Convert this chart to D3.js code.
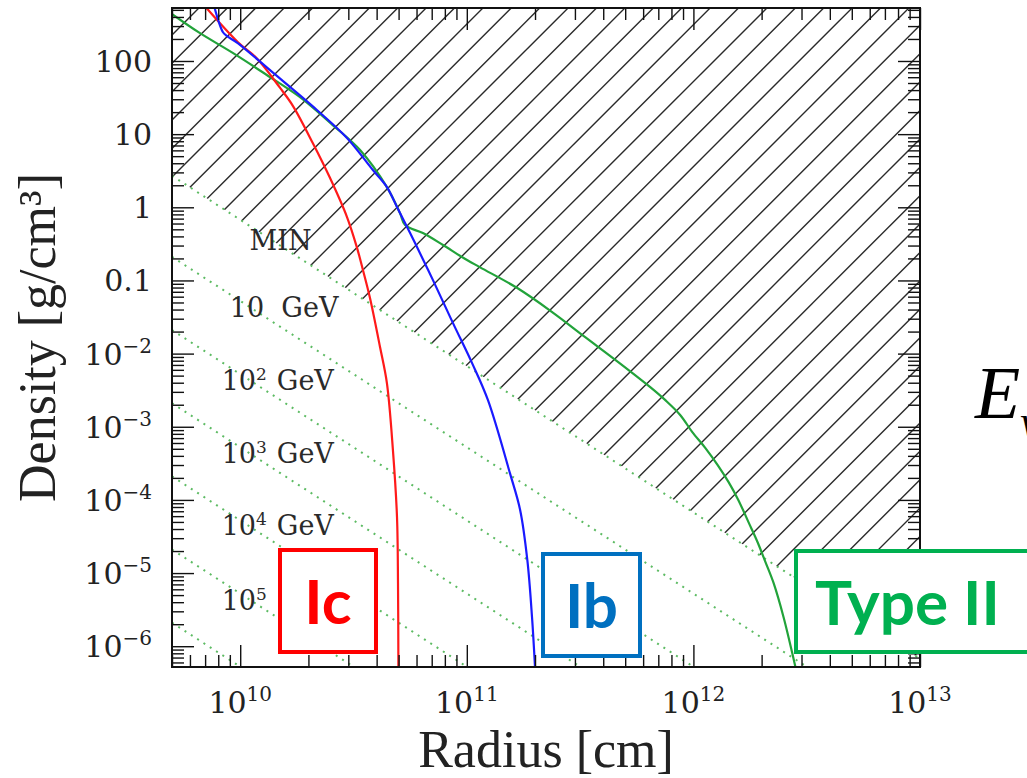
<!DOCTYPE html>
<html>
<head>
<meta charset="utf-8">
<script src="https://cdn.jsdelivr.net/npm/d3@7"></script>
<style>
  body { margin: 0; background: #fff; }
  svg { display: block; }
  .axis path { display: none; }
  .axis line { stroke: #111; stroke-width: 1.4; }
  .ticklabel { font-family: 'DejaVu Serif', serif; font-size: 30px; fill: #222; }
  .title { font-family: 'Liberation Serif', serif; font-size: 52px; fill: #222; }
  .linelabel { font-family: 'DejaVu Serif', serif; font-size: 27px; fill: #2a2a2a; }
</style>
</head>
<body>
<div id="chart"></div>
<script>
// axis ranges
const radiusDomain = [5e9, 1e13]
const densityDomain = [5.2e-7, 530]
const radiusTickExp = [10, 11, 12, 13]
const densityTicks = [100, 10, 1, 0.1, 1e-2, 1e-3, 1e-4, 1e-5, 1e-6]

// density profiles: [radius cm, density g/cm3]
const icProfile = [
  [7.1e9, 530], [9.75e9, 182], [1.18e10, 110], [1.50e10, 42.8], [1.71e10, 24.2],
  [2.09e10, 7.57], [2.48e10, 2.59], [2.96e10, 0.736], [3.27e10, 0.286], [3.48e10, 0.139],
  [3.73e10, 0.0593], [4.14e10, 0.0123], [4.44e10, 3.95e-3], [4.72e10, 4.79e-4],
  [4.92e10, 5.8e-5], [4.97e10, 7.3e-6], [4.99e10, 5.2e-7]
]
const ibProfile = [
  [7.71e9, 530], [8.38e9, 249], [8.72e9, 220], [9.75e9, 176], [1.35e10, 75.4],
  [2.18e10, 21.4], [2.96e10, 8.85], [3.85e10, 3.23], [4.44e10, 1.89], [4.92e10, 1.01],
  [5.45e10, 0.537], [5.91e10, 0.324], [7.09e10, 0.101], [8.69e10, 0.0261],
  [1.055e11, 7.41e-3], [1.24e11, 2.31e-3], [1.55e11, 2.32e-4], [1.72e11, 7.24e-5],
  [1.85e11, 1.50e-5], [1.94e11, 2.49e-6], [2.0e11, 5.2e-7]
]
const typeIIProfile = [
  [4.99e9, 440], [6.62e9, 242], [9.27e9, 129], [1.31e10, 64.4], [1.83e10, 32.2],
  [2.56e10, 13.3], [3.38e10, 6.07], [4.44e10, 1.89], [5.07e10, 0.834], [5.34e10, 0.571],
  [6.40e10, 0.444], [7.85e10, 0.305], [9.52e10, 0.209], [1.14e11, 0.152],
  [1.67e11, 0.0787], [2.38e11, 0.0370], [3.33e11, 0.0168], [4.66e11, 7.66e-3],
  [6.45e11, 3.48e-3], [7.52e11, 2.31e-3], [8.76e11, 1.44e-3], [9.89e11, 8.45e-4],
  [1.13e12, 5.11e-4], [1.28e12, 2.99e-4], [1.43e12, 1.75e-4], [1.58e12, 9.93e-5],
  [1.75e12, 4.97e-5], [1.92e12, 2.64e-5], [2.08e12, 1.41e-5], [2.26e12, 7.27e-6],
  [2.50e12, 2.49e-6], [2.82e12, 5.2e-7]
]

// threshold lines rho ~ r^-2, given by density at r = 5e9
const thresholdNames = ['MIN', '10 GeV', '10|2 GeV', '10|3 GeV', '10|4 GeV', '10|5', '']
const thresholdRho0 = [2.7, 0.21, 0.021, 2.1e-3, 2.1e-4, 2.1e-5, 2.1e-6]
const thresholdSlope = -2
const labelRadius = [1.10e10, 9.0e9, 8.28e9, 8.28e9, 8.28e9, 8.28e9]
const labelDensity = [0.26, 0.0315, 3.2e-3, 3.2e-4, 3.3e-5, 3.1e-6]

const w = 1027, h = 778
const pLeft = 172, pRight = 920, pTop = 8, pBottom = 667

let svg = d3.select('#chart').append('svg')
  .attr('width', w)
  .attr('height', h)

let x = d3.scaleLog().domain(radiusDomain).range([pLeft, pRight])
let y = d3.scaleLog().domain(densityDomain).range([pBottom, pTop])

let defs = svg.append('defs')
defs.append('clipPath').attr('id', 'plotclip')
  .append('rect')
  .attr('x', pLeft).attr('y', pTop)
  .attr('width', pRight - pLeft).attr('height', pBottom - pTop)

let rhoAt = (rho0, r) => rho0 * Math.pow(r / radiusDomain[0], thresholdSlope)

// hatched region above the MIN line
let minRho = thresholdRho0[0]
defs.append('clipPath').attr('id', 'hatchclip')
  .append('polygon')
  .attr('points', [
    [pLeft, pTop], [pRight, pTop],
    [pRight, y(rhoAt(minRho, radiusDomain[1]))],
    [pLeft, y(rhoAt(minRho, radiusDomain[0]))]
  ].map(p => p.join(',')).join(' '))

let hatchStep = 28.4
let c0 = 661.3
while (c0 - hatchStep > pLeft + pTop) c0 -= hatchStep
let hatchC = d3.range(c0, pRight + pBottom + hatchStep, hatchStep)
svg.append('g')
  .attr('clip-path', 'url(#hatchclip)')
  .selectAll('line')
  .data(hatchC)
  .enter()
  .append('line')
  .attr('x1', c => c - pBottom).attr('y1', pBottom)
  .attr('x2', c => c - pTop).attr('y2', pTop)
  .attr('stroke', '#2a2a2a')
  .attr('stroke-width', 1.4)

// threshold dotted lines
let plotG = svg.append('g').attr('clip-path', 'url(#plotclip)')
plotG.selectAll('.thr')
  .data(thresholdRho0)
  .enter()
  .append('line')
  .attr('class', 'thr')
  .attr('x1', x(radiusDomain[0]))
  .attr('y1', d => y(rhoAt(d, radiusDomain[0])))
  .attr('x2', x(radiusDomain[1]))
  .attr('y2', d => y(rhoAt(d, radiusDomain[1])))
  .attr('stroke', '#5dbb63')
  .attr('stroke-width', 2)
  .attr('stroke-dasharray', '2,5.5')

// profiles
let line = d3.line()
  .x(d => x(d[0]))
  .y(d => y(d[1]))
  .curve(d3.curveCatmullRom.alpha(0.5))

let profiles = [
  { data: typeIIProfile, color: '#22a33a' },
  { data: icProfile, color: '#ff1a1a' },
  { data: ibProfile, color: '#1a1aff' }
]
plotG.selectAll('.profile')
  .data(profiles)
  .enter()
  .append('path')
  .attr('class', 'profile')
  .attr('d', d => line(d.data))
  .attr('fill', 'none')
  .attr('stroke', d => d.color)
  .attr('stroke-width', 2.2)

// line labels
let lbl = svg.selectAll('.linelabel')
  .data(thresholdNames.slice(0, 6))
  .enter()
  .append('text')
  .attr('class', 'linelabel')
  .attr('x', (d, i) => x(labelRadius[i]))
  .attr('y', (d, i) => y(labelDensity[i]))
lbl.each(function (d) {
  let t = d3.select(this)
  let parts = d.split('|')
  if (parts.length === 1) {
    t.text(d.replace(' ', '\u00a0\u00a0'))
    return
  }
  let rest = parts[1].split(' ')
  t.append('tspan').text(parts[0])
  t.append('tspan').attr('font-size', 17).attr('dy', -10).text(rest[0])
  if (rest[1]) t.append('tspan').attr('dy', 10).attr('dx', 10).text(rest[1])
})

// ticks on all four sides, pointing inward
let majorX = radiusTickExp.map(e => Math.pow(10, e)).filter(v => v >= radiusDomain[0] && v <= radiusDomain[1])
let minorX = []
d3.range(9, 13).forEach(e => d3.range(2, 10).forEach(m => {
  let v = m * Math.pow(10, e)
  if (v >= radiusDomain[0] && v < radiusDomain[1]) minorX.push(v)
}))
let majorY = d3.range(-6, 3).map(e => Math.pow(10, e))
let minorY = []
d3.range(-7, 3).forEach(e => d3.range(2, 10).forEach(m => {
  let v = m * Math.pow(10, e)
  if (v >= densityDomain[0] && v <= densityDomain[1]) minorY.push(v)
}))

let addAxis = (axisFn, scale, vals, size, tr) => {
  svg.append('g')
    .attr('class', 'axis')
    .attr('transform', tr)
    .call(axisFn(scale).tickValues(vals).tickSize(-size).tickFormat(''))
}
;[[majorX, 22], [minorX, 12]].forEach(([vals, s]) => {
  addAxis(d3.axisBottom, x, vals, s, `translate(0,${pBottom})`)
  addAxis(d3.axisTop, x, vals, s, `translate(0,${pTop})`)
})
;[[majorY, 22], [minorY, 12]].forEach(([vals, s]) => {
  addAxis(d3.axisLeft, y, vals, s, `translate(${pLeft},0)`)
  addAxis(d3.axisRight, y, vals, s, `translate(${pRight},0)`)
})

svg.append('rect')
  .attr('x', pLeft).attr('y', pTop)
  .attr('width', pRight - pLeft).attr('height', pBottom - pTop)
  .attr('fill', 'none')
  .attr('stroke', '#111')
  .attr('stroke-width', 2)

// x tick labels
svg.selectAll('.xlab')
  .data(radiusTickExp)
  .enter()
  .append('text')
  .attr('class', 'ticklabel xlab')
  .attr('x', e => x(Math.pow(10, e)))
  .attr('y', 713)
  .attr('text-anchor', 'middle')
  .each(function (e) {
    let t = d3.select(this)
    t.append('tspan').text('10')
    t.append('tspan').attr('font-size', 20).attr('dy', -12).text(e)
  })

// y tick labels
svg.selectAll('.ylab')
  .data(densityTicks)
  .enter()
  .append('text')
  .attr('class', 'ticklabel ylab')
  .attr('x', 152)
  .attr('y', d => y(d) + 11)
  .attr('text-anchor', 'end')
  .each(function (d) {
    let t = d3.select(this)
    if (d >= 0.1) {
      t.text(d)
    } else {
      t.append('tspan').text('10')
      t.append('tspan').attr('font-size', 20).attr('dy', -12)
        .text('\u2212' + Math.round(-Math.log10(d)))
    }
  })

// axis titles
svg.append('text')
  .attr('class', 'title')
  .attr('x', (pLeft + pRight) / 2)
  .attr('y', 767)
  .attr('text-anchor', 'middle')
  .text('Radius [cm]')
svg.append('text')
  .attr('class', 'title')
  .attr('transform', `translate(55,${(pTop + pBottom) / 2}) rotate(-90)`)
  .attr('text-anchor', 'middle')
  .text('Density [g/cm\u00b3]')

// slide annotations
let boxes = [
  { label: 'Ic', color: '#ff0000', x: 280, y: 550, w: 96, h: 102 },
  { label: 'Ib', color: '#0070c0', x: 543, y: 554, w: 97, h: 102 },
  { label: 'Type II', color: '#00b050', x: 796, y: 551, w: 250, h: 101 }
]
let bg = svg.selectAll('.box')
  .data(boxes)
  .enter()
  .append('g')
  .attr('class', 'box')
bg.append('rect')
  .attr('x', d => d.x).attr('y', d => d.y)
  .attr('width', d => d.w).attr('height', d => d.h)
  .attr('fill', '#fff')
  .attr('stroke', d => d.color)
  .attr('stroke-width', 4)
bg.append('text')
  .attr('x', d => d.label === 'Type II' ? 815 : d.x + d.w / 2)
  .attr('y', d => d.y + 74)
  .attr('text-anchor', d => d.label === 'Type II' ? 'start' : 'middle')
  .attr('font-family', 'Lato, "Open Sans", sans-serif')
  .attr('font-weight', 'bold')
  .attr('font-size', 62)
  .attr('fill', d => d.color)
  .text(d => d.label)

// partial formula at the right edge
let ev = svg.append('text')
  .attr('x', 975)
  .attr('y', 418)
  .attr('font-family', '"Liberation Serif", serif')
  .attr('font-style', 'italic')
  .attr('font-size', 74)
  .attr('fill', '#000')
ev.append('tspan').text('E')
ev.append('tspan').attr('font-size', 44).attr('dy', 18).text('\u03bd')
</script>
</body>
</html>
